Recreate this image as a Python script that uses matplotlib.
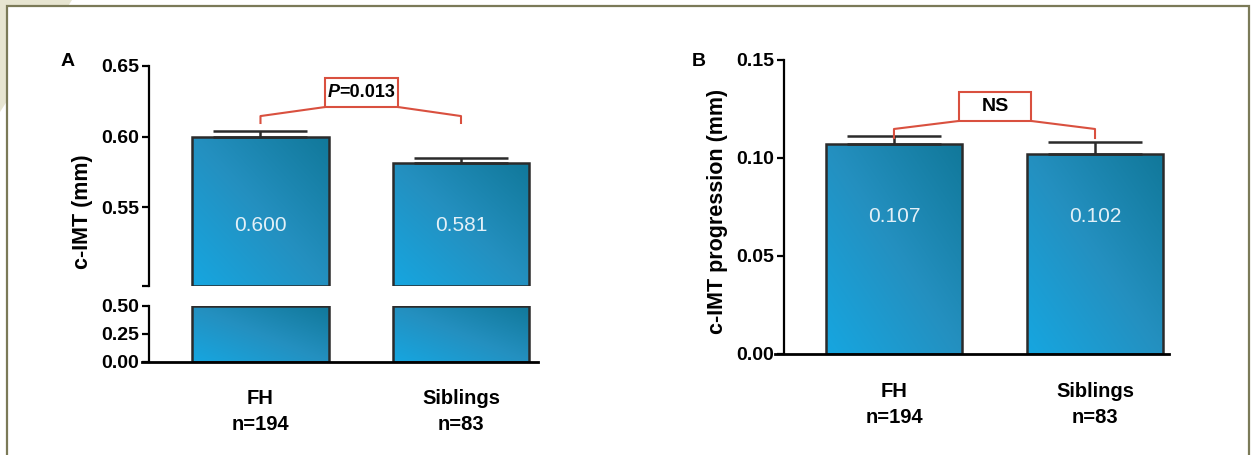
import numpy as np
import matplotlib
matplotlib.use("Agg")
import matplotlib.pyplot as plt
from matplotlib.patches import Polygon, Rectangle
from matplotlib.colors import LinearSegmentedColormap

plt.rcParams['font.family'] = ['Liberation Sans Narrow', 'Liberation Sans', 'DejaVu Sans']

# data
groups = ["FH\nn=194", "Siblings\nn=83"]
imt_mean = [0.600, 0.581]
imt_err = [0.004, 0.004]
prog_mean = [0.107, 0.102]
prog_err = [0.004, 0.006]
imt_p = "0.013"
prog_p = "NS"

W, H = 1256, 455
fig = plt.figure(figsize=(W / 100, H / 100), dpi=100)

def fx(px):
    return px / W

def fy(py):
    return 1 - py / H

# page corner + frame (behind the axes)
fig.patches.append(Polygon([(0, 1), (fx(72), 1), (0, fy(112))], closed=True,
                           transform=fig.transFigure, facecolor="#e7e5d1",
                           edgecolor="none", zorder=-3))
fig.patches.append(Rectangle((fx(7), -0.05), fx(1249) - fx(7), fy(6.5) + 0.05,
                             transform=fig.transFigure, facecolor="white",
                             edgecolor="#7b7a58", lw=1.6, zorder=-2))

cmap = LinearSegmentedColormap.from_list("barblue", ["#16a6e0", "#2490c0", "#11789a"])
grad = np.add.outer(np.linspace(0, 1, 100), np.linspace(0, 1, 100)) / 2

BW = 0.68
LW = 1.6
TICK_FS = 14

def gradient_bars(ax, heights, bottom=0):
    x = np.arange(len(heights))
    bars = ax.bar(x, heights, width=BW, bottom=bottom, facecolor="none",
                  edgecolor="#2b2b2b", lw=1.8, zorder=3)
    for b in bars:
        x0, y0 = b.get_x(), b.get_y()
        img = ax.imshow(grad, cmap=cmap, origin="lower", aspect="auto",
                        extent=[x0, x0 + b.get_width(), y0, y0 + b.get_height()],
                        zorder=2, interpolation="bilinear")
        img.set_clip_path(b)
    return bars

def style_axis(ax):
    ax.patch.set_alpha(0)
    for s in ["top", "right", "bottom"]:
        ax.spines[s].set_visible(False)
    ax.spines["left"].set_linewidth(LW)
    ax.tick_params(axis="y", width=LW, length=5, labelsize=TICK_FS, pad=2)
    for t in ax.get_yticklabels():
        t.set_fontweight("bold")

def bracket(ax, y_low, y_bend, y_box, y_top, bx0, bx1, text, italic_p=False):
    red = "#d9503f"
    ax.plot([0, 0, bx0], [y_low, y_bend, y_box], color=red, lw=1.5, zorder=4)
    ax.plot([1, 1, bx1], [y_low, y_bend, y_box], color=red, lw=1.5, zorder=4)
    ax.add_patch(Rectangle((bx0, y_box), bx1 - bx0, y_top - y_box, facecolor="white",
                           edgecolor=red, lw=1.5, zorder=5))
    ym = (y_box + y_top) / 2
    xm = (bx0 + bx1) / 2
    if italic_p:
        ax.text(xm - 0.11, ym, "P", ha="right", va="center",
                fontsize=13, fontweight="bold", fontstyle="italic", zorder=6)
        ax.text(xm - 0.11, ym, "=" + text, ha="left", va="center",
                fontsize=13, fontweight="bold", zorder=6)
    else:
        ax.text(xm, ym, text, ha="center", va="center",
                fontsize=14, fontweight="bold", zorder=6)

def value_labels(ax, vals, y, fmt):
    for i, v in enumerate(vals):
        ax.text(i, y, fmt.format(v), ha="center", va="center", color="#e3f0f7",
                fontsize=15, zorder=6)

def group_labels(ax, y_axes):
    for i, g in enumerate(groups):
        ax.text(i, y_axes, g, transform=ax.get_xaxis_transform(), ha="center",
                va="top", fontsize=14.5, fontweight="bold", linespacing=1.5)

def baseline(ax, left_ext):
    ax.plot([-left_ext, 1], [0, 0], transform=ax.transAxes, color="black",
            lw=LW + 0.4, clip_on=False, zorder=5)

# ---- panel A: broken axis ----
xl_a = (-0.556, 1.384)
ylo_a = 0.494
axA = fig.add_axes([fx(149), fy(286), fx(538) - fx(149), fy(66) - fy(286)])
axA2 = fig.add_axes([fx(149), fy(362), fx(538) - fx(149), fy(306) - fy(362)])

gradient_bars(axA, np.array(imt_mean) - ylo_a, bottom=ylo_a)
axA.errorbar(range(2), imt_mean, yerr=[[0, 0], imt_err], fmt="none",
             ecolor="#2b2b2b", elinewidth=1.8, capsize=34, capthick=1.8, zorder=4)
axA.set_xlim(*xl_a)
axA.set_ylim(ylo_a, 0.65)
axA.set_yticks([ylo_a, 0.55, 0.60, 0.65])
axA.set_yticklabels(["", "0.55", "0.60", "0.65"])
axA.set_xticks([])
style_axis(axA)
axA.set_ylabel("c-IMT (mm)", fontsize=15.5, fontweight="bold")
axA.yaxis.set_label_coords(-0.145, 0.34)
value_labels(axA, imt_mean, 0.537, "{:.3f}")
bracket(axA, 0.6096, 0.6145, 0.6209, 0.6415, 0.322, 0.686, imt_p, italic_p=True)

gradient_bars(axA2, [0.5, 0.5])
axA2.set_xlim(*xl_a)
axA2.set_ylim(0, 0.5)
axA2.set_yticks([0, 0.25, 0.5])
axA2.set_yticklabels(["0.00", "0.25", "0.50"])
axA2.set_xticks([])
style_axis(axA2)
baseline(axA2, 0.018)
group_labels(axA2, -0.48)

fig.text(fx(68), fy(61), "A", fontsize=14, fontweight="bold", ha="center", va="center")

# ---- panel B ----
axB = fig.add_axes([fx(784), fy(354), fx(1169) - fx(784), fy(60) - fy(354)])
gradient_bars(axB, prog_mean)
axB.errorbar(range(2), prog_mean, yerr=[[0, 0], prog_err], fmt="none",
             ecolor="#2b2b2b", elinewidth=1.8, capsize=34, capthick=1.8, zorder=4)
axB.set_xlim(-0.547, 1.368)
axB.set_ylim(0, 0.15)
axB.set_yticks([0, 0.05, 0.10, 0.15])
axB.set_yticklabels(["0.00", "0.05", "0.10", "0.15"])
axB.set_xticks([])
style_axis(axB)
baseline(axB, 0.024)
axB.set_ylabel("c-IMT progression (mm)", fontsize=15.5, fontweight="bold")
axB.yaxis.set_label_coords(-0.145, 0.486)
value_labels(axB, prog_mean, 0.070, "{:.3f}")
bracket(axB, 0.1102, 0.1148, 0.1189, 0.1337, 0.323, 0.682, prog_p)
group_labels(axB, -0.095)

fig.text(fx(699), fy(61), "B", fontsize=14, fontweight="bold", ha="center", va="center")

fig.savefig("out.png", dpi=100)
